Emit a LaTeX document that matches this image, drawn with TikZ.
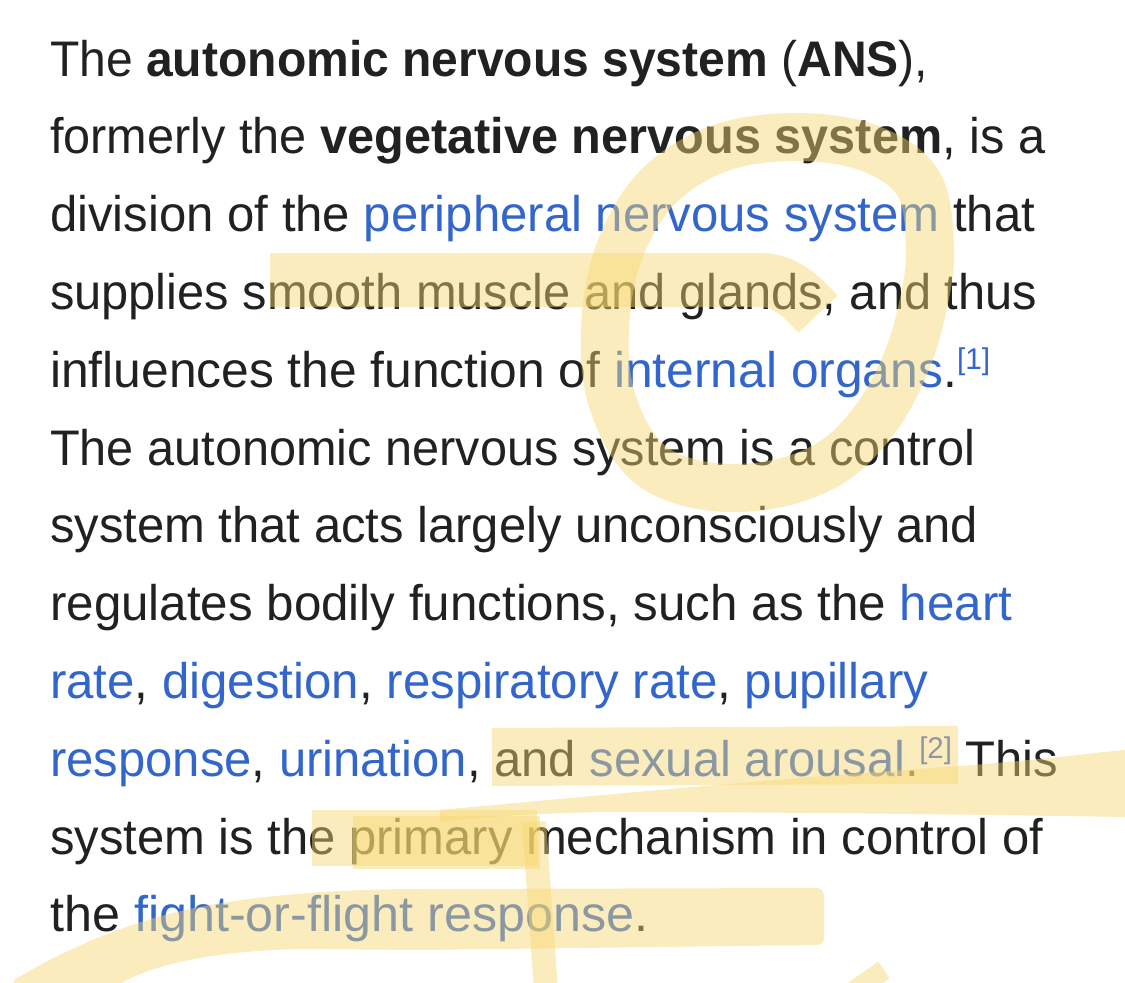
\documentclass[tikz,border=0pt]{standalone}
\usepackage{fontspec}
\setmainfont{Liberation Sans}
\usepackage{graphicx}
\definecolor{txt}{HTML}{202122}
\definecolor{lnk}{HTML}{3366CC}
\definecolor{hl}{RGB}{248,215,110}
\newdimen\linelen
\newcommand\fitline[2]{\settowidth\linelen{#2}\scalebox{\fpeval{#1/\linelen}}[1]{#2}}
\newcommand\lk[1]{\textcolor{lnk}{#1}}
\newcommand\refmark[1]{\raisebox{18pt}{\fontsize{30}{30}\selectfont\textcolor{lnk}{#1}}}
\begin{document}
\begin{tikzpicture}[x=1pt,y=-1pt,
  textline/.style={anchor=base west,inner sep=0pt,text=txt,font=\fontsize{50}{60}\selectfont},
  hlstroke/.style={draw=hl,opacity=0.45,line cap=butt,line join=round},
  hlfill/.style={fill=hl,opacity=0.45}]
\fill[white] (0,0) rectangle (1125,983);
\useasboundingbox (0,0) rectangle (1125,983);
% text
\node[textline] (l1) at (50,76) {\fitline{878}{The \textbf{autonomic nervous system} (\textbf{ANS}),}};
\node[textline] (l2) at (50,153.8) {\fitline{995}{formerly the \textbf{vegetative nervous system}, is a}};
\node[textline] (l3) at (50,231.6) {\fitline{985}{division of the \lk{peripheral nervous system} that}};
\node[textline] (l4) at (50,309.4) {\fitline{987}{supplies smooth muscle and glands, and thus}};
\node[textline] (l5) at (50,387.2) {\fitline{940}{influences the function of \lk{internal organs}.\refmark{[1]}}};
\node[textline] (l6) at (50,465) {\fitline{925}{The autonomic nervous system is a control}};
\node[textline] (l7) at (50,542.8) {\fitline{928}{system that acts largely unconsciously and}};
\node[textline] (l8) at (50,620.6) {\fitline{962}{regulates bodily functions, such as the \lk{heart}}};
\node[textline] (l9) at (50,698.4) {\fitline{878}{\lk{rate}, \lk{digestion}, \lk{respiratory rate}, \lk{pupillary}}};
\node[textline] (l10) at (50,776.2) {\fitline{1008}{\lk{response}, \lk{urination}, and \lk{sexual arousal}.\refmark{[2]} This}};
\node[textline] (l11) at (50,854) {\fitline{993}{system is the primary mechanism in control of}};
\node[textline] (l12) at (50,931.8) {\fitline{598}{the \lk{fight-or-flight response}.}};
% highlighter strokes
\draw[hlstroke,line width=48pt] plot[smooth cycle,tension=0.6] coordinates {
  (790,137) (866,147) (918,183) (930,250) (922,310) (905,365) (876,418)
  (832,462) (770,485) (700,485) (645,460) (612,400) (605,330) (618,255)
  (655,190) (715,150)};
\draw[hlstroke,line width=54pt] (270,280) -- (760,280) .. controls (785,280) and (800,295) .. (818,314);
\draw[hlstroke,line width=58pt] (492,757) -- (958,755);
\fill[hlfill] (440,810) .. controls (580,797) and (760,780) .. (960,766)
  .. controls (1040,760) and (1100,752) .. (1125,750) -- (1125,817)
  .. controls (1000,815) and (800,812) .. (600,812) .. controls (520,814) and (470,818) .. (440,822) -- cycle;
\draw[hlstroke,line width=56pt] (312,838) -- (537,838);
\draw[hlstroke,line width=53pt] (353,842) -- (540,842);
\draw[hlstroke,line width=24pt] (534,822) -- (546,990);
\fill[hlfill] (12,990) -- (14,980) .. controls (50,958) and (120,922) .. (200,907)
  .. controls (260,895) and (340,889) .. (420,889) -- (816,888)
  .. controls (821,888) and (824,891) .. (824,896) -- (824,938)
  .. controls (824,943) and (821,945) .. (816,945) -- (420,950)
  -- (300,949) .. controls (220,951) and (150,962) .. (110,990) -- cycle;
\draw[hlstroke,line width=20pt] (852,992) -- (884,970);
\end{tikzpicture}
\end{document}
